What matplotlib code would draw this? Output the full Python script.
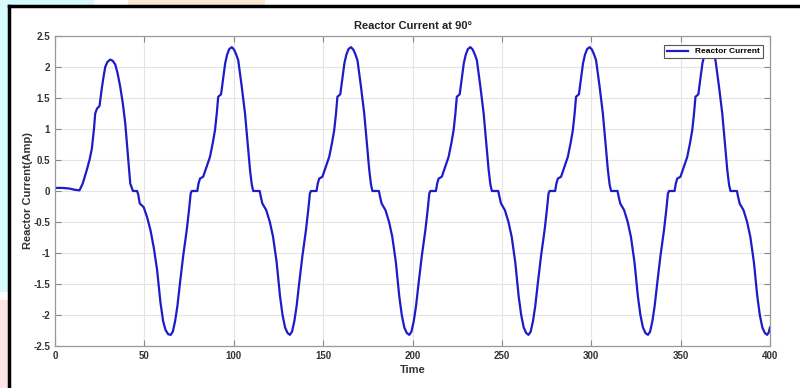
import matplotlib.pyplot as plt
from matplotlib.patches import Rectangle
from matplotlib.lines import Line2D

# values, cycle by cycle
time = [
    0, 4, 8, 11, 13.7, 15.5, 17.8, 19.3, 20.6, 21.8, 22.5, 23.5, 24.9, 25.5, 26.2, 27.2, 28.1, 29.3,
    30.9, 32.3, 33.7, 35.0, 36.5, 38.0, 39.3, 40.7, 42.1, 43.6, 45.9, 46.5, 47.4, 48.5, 49.6, 51.5,
    53.4, 55.3, 57.1, 59.0, 60.5, 61.8, 63.3,
    64.7, 65.9, 67.2, 68.5, 69.9, 71.7, 73.7, 75.0, 75.9, 76.5, 79.6, 80.3, 81.1, 82.9, 84.9, 86.7,
    88.3, 89.5, 90.5, 91.3, 92.9, 94.0, 95.2, 96.3, 97.5, 98.9, 100.2, 101.4, 102.5, 104.4, 106.3,
    107.7, 109.1, 110.1, 110.9, 114.5, 115.2, 116.0, 118.2, 120.2, 122.0, 124.0, 125.9, 127.3, 128.7, 130.1,
    131.4, 132.6, 133.9, 135.2, 136.6, 138.4, 140.4, 141.7, 142.6, 143.2, 146.3, 147.0, 147.8, 149.6,
    151.6, 153.4, 155.0, 156.2, 157.2, 158.0, 159.6, 160.7, 161.9, 163.0, 164.2, 165.6, 166.9, 168.1,
    169.2, 171.1, 173.0, 174.4, 175.8, 176.8, 177.6, 181.2, 181.9, 182.7, 184.9, 186.9, 188.7, 190.7,
    192.6, 194.0, 195.4, 196.8,
    198.2, 199.4, 200.7, 202.0, 203.4, 205.2, 207.2, 208.5, 209.4, 210.0, 213.1, 213.8, 214.6, 216.4,
    218.4, 220.2, 221.8, 223.0, 224.0, 224.8, 226.4, 227.5, 228.7, 229.8, 231.0, 232.4, 233.7, 234.9,
    236.0, 237.9, 239.8, 241.2, 242.6, 243.6, 244.4, 248.0, 248.7, 249.5, 251.7, 253.7, 255.5, 257.5,
    259.4, 260.8, 262.2, 263.6,
    264.9, 266.1, 267.4, 268.7, 270.1, 271.9, 273.9, 275.2, 276.1, 276.7, 279.8, 280.5, 281.3, 283.1,
    285.1, 286.9, 288.5, 289.7, 290.7, 291.5, 293.1, 294.2, 295.4, 296.5, 297.7, 299.1, 300.4, 301.6,
    302.7, 304.6, 306.5, 307.9, 309.3, 310.3, 311.1, 314.7, 315.4, 316.2, 318.4, 320.4, 322.2, 324.2,
    326.1, 327.5, 328.9, 330.3,
    331.7, 332.9, 334.2, 335.5, 336.9, 338.7, 340.7, 342.0, 342.9, 343.5, 346.6, 347.3, 348.1, 349.9,
    351.9, 353.7, 355.3, 356.5, 357.5, 358.3, 359.9, 361.0, 362.2, 363.3, 364.5, 365.9, 367.2, 368.4,
    369.5, 371.4, 373.3, 374.7, 376.1, 377.1, 377.9, 381.5, 382.2, 383.0, 385.2, 387.2, 389.0, 391.0,
    392.9, 394.3, 395.7, 397.1,
    398.4, 399.3, 400,
]
current = [
    0.05, 0.05, 0.04, 0.02, 0.01, 0.12, 0.34, 0.5, 0.68, 1.0, 1.25, 1.33, 1.37, 1.5, 1.66, 1.85, 2.0, 2.08,
    2.12, 2.1, 2.04, 1.9, 1.68, 1.4, 1.09, 0.6, 0.12, 0.0, 0.0, -0.05, -0.2, -0.23, -0.26, -0.42,
    -0.63, -0.92, -1.27, -1.8, -2.1, -2.24, -2.31,
    -2.32, -2.27, -2.1, -1.85, -1.49, -1.05, -0.63, -0.3, -0.04, 0.0, 0.0, 0.12, 0.2, 0.23, 0.4, 0.55,
    0.78, 0.98, 1.25, 1.52, 1.56, 1.8, 2.06, 2.2, 2.29, 2.32, 2.28, 2.2, 2.11, 1.7, 1.25,
    0.8, 0.34, 0.1, 0.0, 0.0, -0.1, -0.2, -0.31, -0.5, -0.74, -1.15, -1.7, -2.0, -2.2, -2.29,
    -2.32, -2.27, -2.1, -1.85, -1.49, -1.05, -0.63, -0.3, -0.04, 0.0, 0.0, 0.12, 0.2, 0.23,
    0.4, 0.55, 0.78, 0.98, 1.25, 1.52, 1.56, 1.8, 2.06, 2.2, 2.29, 2.32, 2.28, 2.2,
    2.11, 1.7, 1.25, 0.8, 0.34, 0.1, 0.0, 0.0, -0.1, -0.2, -0.31, -0.5, -0.74, -1.15,
    -1.7, -2.0, -2.2, -2.29,
    -2.32, -2.27, -2.1, -1.85, -1.49, -1.05, -0.63, -0.3, -0.04, 0.0, 0.0, 0.12, 0.2, 0.23,
    0.4, 0.55, 0.78, 0.98, 1.25, 1.52, 1.56, 1.8, 2.06, 2.2, 2.29, 2.32, 2.28, 2.2,
    2.11, 1.7, 1.25, 0.8, 0.34, 0.1, 0.0, 0.0, -0.1, -0.2, -0.31, -0.5, -0.74, -1.15,
    -1.7, -2.0, -2.2, -2.29,
    -2.32, -2.27, -2.1, -1.85, -1.49, -1.05, -0.63, -0.3, -0.04, 0.0, 0.0, 0.12, 0.2, 0.23,
    0.4, 0.55, 0.78, 0.98, 1.25, 1.52, 1.56, 1.8, 2.06, 2.2, 2.29, 2.32, 2.28, 2.2,
    2.11, 1.7, 1.25, 0.8, 0.34, 0.1, 0.0, 0.0, -0.1, -0.2, -0.31, -0.5, -0.74, -1.15,
    -1.7, -2.0, -2.2, -2.29,
    -2.32, -2.27, -2.1, -1.85, -1.49, -1.05, -0.63, -0.3, -0.04, 0.0, 0.0, 0.12, 0.2, 0.23,
    0.4, 0.55, 0.78, 0.98, 1.25, 1.52, 1.56, 1.8, 2.06, 2.2, 2.29, 2.32, 2.28, 2.2,
    2.11, 1.7, 1.25, 0.8, 0.34, 0.1, 0.0, 0.0, -0.1, -0.2, -0.31, -0.5, -0.74, -1.15,
    -1.7, -2.0, -2.2, -2.29,
    -2.32, -2.28, -2.2,
]

x_ticks = [0, 50, 100, 150, 200, 250, 300, 350, 400]
y_ticks = [-2.5, -2, -1.5, -1, -0.5, 0, 0.5, 1, 1.5, 2, 2.5]
y_labels = ['-2.5', '-2', '-1.5', '-1', '-0.5', '0', '0.5', '1', '1.5', '2', '2.5']

plt.rcParams['font.family'] = ['Liberation Sans', 'DejaVu Sans']

fig = plt.figure(figsize=(8, 3.88), dpi=100)
fig.patch.set_facecolor('white')

# coloured scraps around the screenshot frame
W, H = 800, 388
for x0, y0, w, h, c in [(0, 0, 94, 7, '#d6fbfd'), (128, 0, 137, 7, '#fde8d3'),
                        (0, 0, 8, 292, '#d6fbfd'), (0, 300, 8, 88, '#fde3e3')]:
    fig.add_artist(Rectangle((x0 / W, 1 - (y0 + h) / H), w / W, h / H,
                             transform=fig.transFigure, color=c, lw=0, zorder=0))
fig.add_artist(Line2D([8.5 / W, 8.5 / W], [0, 1 - 6 / H], transform=fig.transFigure,
                      color='black', lw=2.5))
fig.add_artist(Line2D([8.5 / W, 1], [1 - 6 / H, 1 - 6 / H], transform=fig.transFigure,
                      color='black', lw=2.5))

ax = fig.add_axes([55 / W, 1 - 346 / H, 715 / W, 310 / H])
ax.plot(time, current, color='#1c1cc8', lw=1.6, label='Reactor Current')

ax.set_xlim(0, 400)
ax.set_ylim(-2.5, 2.5)
ax.set_xticks(x_ticks)
ax.set_yticks(y_ticks)
ax.set_yticklabels(y_labels)
ax.grid(True, color='#e4e4e4', lw=0.8)
ax.tick_params(direction='in', top=True, right=True, length=4, width=0.8,
               colors='#888888', labelcolor='#333333', labelsize=7)
for lab in ax.get_xticklabels() + ax.get_yticklabels():
    lab.set_fontweight('bold')
for s in ax.spines.values():
    s.set_color('#999999')
    s.set_linewidth(0.9)

ax.set_title('Reactor Current at 90°', fontsize=8, fontweight='bold', color='#222222', pad=5)
ax.set_xlabel('Time', fontsize=8, fontweight='bold', color='#333333', labelpad=3)
ax.set_ylabel('Reactor Current(Amp)', fontsize=8, fontweight='bold', color='#333333', labelpad=0)

leg = ax.legend(loc='upper right', prop={'weight': 'bold', 'size': 6},
                fancybox=False, framealpha=1, edgecolor='#555555', handlelength=2.6,
                borderpad=0.35, borderaxespad=0, bbox_to_anchor=(0.99, 0.972))
leg.get_frame().set_linewidth(0.8)

plt.savefig('out.png', dpi=100)
